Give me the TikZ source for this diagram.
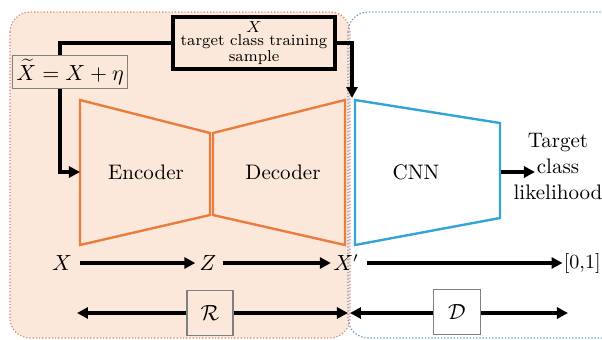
\documentclass[tikz,border=0pt]{standalone}
\usetikzlibrary{arrows.meta}
\definecolor{peach}{RGB}{252,232,218}
\definecolor{encorange}{RGB}{232,125,62}
\definecolor{cnnblue}{RGB}{52,163,214}
\definecolor{dotorange}{RGB}{222,130,110}
\definecolor{dotblue}{RGB}{90,150,210}
\definecolor{boxgray}{RGB}{128,128,128}
\tikzset{
  regionO/.style={draw=dotorange, fill=peach, densely dotted, line width=0.6pt, rounded corners=10pt},
  regionB/.style={draw=dotblue, densely dotted, line width=0.6pt, rounded corners=10pt},
  trapO/.style={draw=encorange, line width=1.2pt, line join=miter},
  trapB/.style={draw=cnnblue, line width=1.2pt, line join=miter},
  txt/.style={font=\fontsize{10.5}{13}\selectfont},
  conn/.style={line width=1.8pt, draw=black},
  arr/.style={conn, -{Triangle[length=5.5pt,width=5.5pt]}},
  graybox/.style={draw=boxgray, line width=0.8pt, inner sep=2pt},
  topbox/.style={draw=black, line width=2pt, fill=peach, minimum width=81pt, minimum height=26pt, align=center, inner sep=0.5pt, font=\fontsize{7.9}{6.6}\selectfont}
}
\begin{document}
\begin{tikzpicture}[x=0.5pt,y=-0.5pt]
\useasboundingbox (0,0) rectangle (602,339);
\begin{scope}
\clip (0,0) rectangle (602,339);
\path[regionO] (10,12) rectangle (350,338);
\path[regionB] (348,12) rectangle (640,338);
\end{scope}

% trapezoids
\draw[trapO] (80,100) -- (210,133) -- (210,215) -- (80,245) -- cycle;
\draw[trapO] (213,133) -- (345,100) -- (345,245) -- (213,215) -- cycle;
\draw[trapB] (355,100) -- (500,123) -- (500,218) -- (355,245) -- cycle;

\node[txt] (enc) at (146,172) {Encoder};
\node[txt] (dec) at (283,172) {Decoder};
\node[txt] (cnn) at (416,172) {CNN};
\coordinate (encW) at (80,172);
\coordinate (cnnE) at (501,172);
\coordinate (cnnIn) at (352,98);
\coordinate (tgtIn) at (535,172);

% top box and noisy box
\node[topbox] (tb) at (254,43) {\raisebox{-1.5pt}{$X$}\\target class training\\sample};
\node[graybox, fill=peach, minimum width=57pt, minimum height=15.5pt, font=\fontsize{10.5}{12}\selectfont] (xt) at (70,72) {$\widetilde{X} = X + \eta$};

\draw[conn] (tb.west) -| ([xshift=-5pt]xt.north);
\draw[arr] ([xshift=-5pt]xt.south) |- (encW);
\draw[arr] (tb.east) -| (cnnIn);

% output
\node[txt, align=center] (tgt) at (558,167) {Target\\class\\likelihood};
\draw[arr] (cnnE) -- (tgtIn);

% bottom row
\node[txt, inner sep=2pt] (x) at (62,263) {$X$};
\node[txt, inner sep=2pt] (z) at (208,263) {$Z$};
\node[txt, inner sep=2pt] (xp) at (346,263) {$X'$};
\node[font=\fontsize{10}{12}\selectfont, anchor=east, inner sep=0.5pt] (o) at (602,263) {[0,1]};
\draw[arr] ([xshift=2pt]x.east) -- (z.west);
\draw[arr] ([xshift=1pt]z.east) -- ([xshift=1pt]xp.west);
\draw[arr] ([xshift=2pt]xp.east) -- (o.west);

% R and D
\coordinate (rl) at (77,313);
\coordinate (rr) at (348,313);
\coordinate (dl) at (350,313);
\coordinate (dr) at (568,313);
\node[graybox, fill=peach, minimum width=23pt, minimum height=22.5pt, txt] (R) at (210,313) {$\mathcal{R}$};
\node[graybox, fill=white, minimum width=23.5pt, minimum height=22.5pt, txt] (D) at (457,312) {$\mathcal{D}$};
\draw[arr] (R.west) -- (rl);
\draw[arr] (R.east) -- (rr);
\draw[arr] (D.west |- dl) -- (dl);
\draw[arr] (D.east |- dr) -- (dr);
\end{tikzpicture}
\end{document}
